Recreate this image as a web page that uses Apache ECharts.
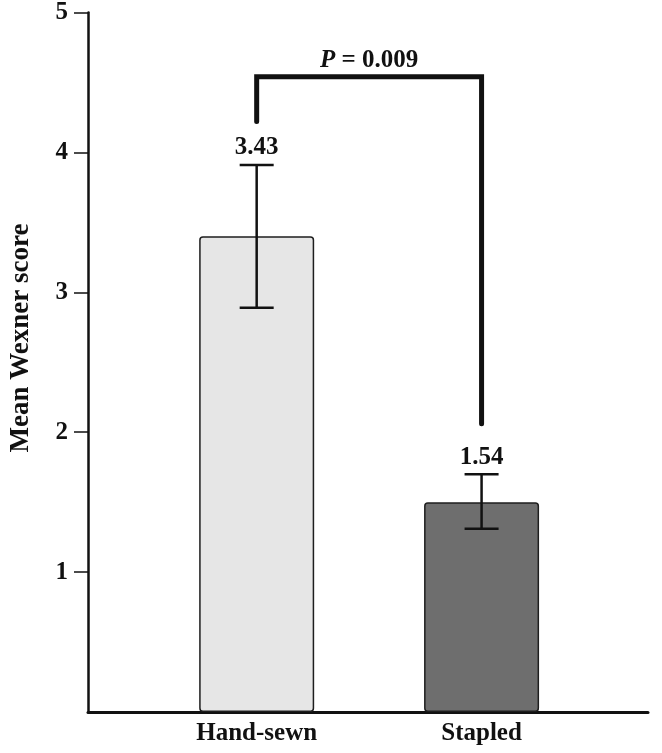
<!DOCTYPE html>
<html lang="en">
<head>
    <meta charset="UTF-8">
    <title>Mean Wexner score</title>
    <script src="https://cdn.jsdelivr.net/npm/echarts@6/dist/echarts.min.js"></script>
    <style>
        html, body { margin: 0; padding: 0; background: #fff; }
        #main { width: 662px; height: 753px; }
    </style>
</head>
<body>
<div id="main"></div>
<script>
    // data
    var categories = ['Hand-sewn', 'Stapled'];
    var catPos = [1, 2];
    var barHeights = [3.40, 1.50];
    var meanLabels = ['3.43', '1.54'];
    var errLow = [2.89, 1.31];
    var errHigh = [3.91, 1.70];
    var barColors = ['#e6e6e6', '#6e6e6e'];
    var yTicks = [1, 2, 3, 4, 5];
    // significance bracket: left leg end, right leg end, top
    var bracketLegs = [4.22, 2.06];
    var bracketTop = 4.54;
    var pValue = '0.009';
    var pLabelY = 4.66;

    var FONT = '"Liberation Serif", "Times New Roman", serif';

    var barData = [];
    var errData = [];
    for (var i = 0; i < categories.length; i++) {
        barData.push({
            value: [catPos[i], barHeights[i]],
            itemStyle: { color: barColors[i] }
        });
        errData.push([catPos[i], errLow[i], errHigh[i], i]);
    }

    var chart = echarts.init(document.getElementById('main'));

    chart.setOption({
        backgroundColor: '#ffffff',
        animation: false,
        grid: { left: 88, right: 14, top: 10, bottom: 41 },
        xAxis: {
            type: 'value',
            min: 0.25,
            max: 2.74,
            splitLine: { show: false },
            axisLine: { show: true, onZero: false, lineStyle: { color: '#111', width: 3 } },
            axisTick: { show: false },
            axisLabel: {
                customValues: catPos,
                margin: 9,
                fontFamily: FONT,
                fontWeight: 'bold',
                fontSize: 25,
                color: '#111',
                formatter: function (v) {
                    var idx = catPos.indexOf(Math.round(v));
                    return idx >= 0 ? categories[idx] : '';
                }
            }
        },
        yAxis: {
            type: 'value',
            min: 0,
            max: 5,
            interval: 1,
            splitLine: { show: false },
            axisLine: { show: true, lineStyle: { color: '#111', width: 2.5 } },
            axisTick: {
                show: true,
                customValues: yTicks,
                length: 14,
                lineStyle: { color: '#111', width: 1.5 }
            },
            axisLabel: {
                customValues: yTicks,
                margin: 20,
                fontFamily: FONT,
                fontWeight: 'bold',
                fontSize: 25,
                color: '#111'
            }
        },
        graphic: [{
            type: 'text',
            x: 21,
            y: 338,
            rotation: Math.PI / 2,
            style: {
                text: 'Mean Wexner score',
                font: 'bold 27px ' + FONT,
                fill: '#111',
                textAlign: 'center',
                textVerticalAlign: 'middle'
            }
        }],
        series: [
            {
                type: 'bar',
                data: barData,
                barWidth: 115,
                itemStyle: {
                    borderColor: '#1e1e1e',
                    borderWidth: 1.5,
                    borderRadius: 3
                },
                z: 2
            },
            {
                // error bars with the mean label above
                type: 'custom',
                data: errData,
                z: 3,
                renderItem: function (params, api) {
                    var x = api.value(0);
                    var lo = api.coord([x, api.value(1)]);
                    var hi = api.coord([x, api.value(2)]);
                    var half = 17;
                    var ls = { stroke: '#111', lineWidth: 2.5 };
                    return {
                        type: 'group',
                        children: [
                            { type: 'line', shape: { x1: lo[0], y1: lo[1], x2: hi[0], y2: hi[1] }, style: ls },
                            { type: 'line', shape: { x1: hi[0] - half, y1: hi[1], x2: hi[0] + half, y2: hi[1] }, style: ls },
                            { type: 'line', shape: { x1: lo[0] - half, y1: lo[1], x2: lo[0] + half, y2: lo[1] }, style: ls },
                            {
                                type: 'text',
                                style: {
                                    text: meanLabels[api.value(3)],
                                    x: hi[0],
                                    y: hi[1] - 17,
                                    font: 'bold 25px ' + FONT,
                                    fill: '#111',
                                    textAlign: 'center',
                                    textVerticalAlign: 'middle'
                                }
                            }
                        ]
                    };
                }
            },
            {
                // significance bracket
                type: 'custom',
                data: [[catPos[0], bracketLegs[0], catPos[1], bracketLegs[1], bracketTop]],
                z: 4,
                renderItem: function (params, api) {
                    var p1 = api.coord([api.value(0), api.value(1)]);
                    var p2 = api.coord([api.value(0), api.value(4)]);
                    var p3 = api.coord([api.value(2), api.value(4)]);
                    var p4 = api.coord([api.value(2), api.value(3)]);
                    var mid = api.coord([(api.value(0) + api.value(2)) / 2, pLabelY]);
                    return {
                        type: 'group',
                        children: [
                            {
                                type: 'polyline',
                                shape: { points: [p1, p2, p3, p4] },
                                style: { stroke: '#111', lineWidth: 5, fill: null, lineCap: 'round', lineJoin: 'miter' }
                            },
                            {
                                type: 'text',
                                style: {
                                    text: '{i|P} = ' + pValue,
                                    x: mid[0],
                                    y: mid[1],
                                    font: 'bold 25px ' + FONT,
                                    fill: '#111',
                                    textAlign: 'center',
                                    textVerticalAlign: 'middle',
                                    rich: {
                                        i: { fontStyle: 'italic', fontWeight: 'bold', fontSize: 25, fontFamily: FONT, fill: '#111' }
                                    }
                                }
                            }
                        ]
                    };
                }
            }
        ]
    });
</script>
</body>
</html>
